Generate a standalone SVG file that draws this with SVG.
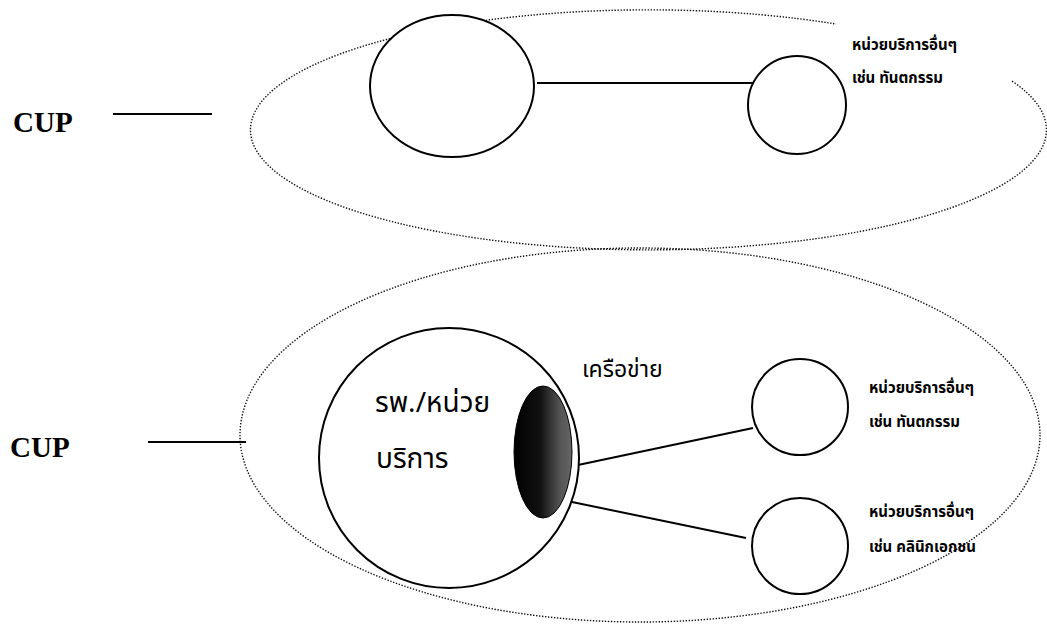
<svg xmlns="http://www.w3.org/2000/svg" width="1047" height="633" viewBox="0 0 1047 633">
<style>
.dot{fill:none;stroke:#111;stroke-width:1.4;stroke-dasharray:1.4 1.6}
.ln{fill:none;stroke:#000;stroke-width:2}
.nd{fill:#fff;stroke:#000;stroke-width:2}
.cup{font-family:"Liberation Serif","Times New Roman",serif;font-weight:bold;font-size:29px;fill:#000}
.th{font-family:"Noto Sans Thai","Noto Sans Thai UI","Noto Sans","DejaVu Sans",sans-serif;fill:#000}
.lbl{font-size:15px;font-weight:bold}
.big{font-size:28px}
.net{font-size:23px}
</style>
<defs>
<linearGradient id="g" x1="0" y1="0" x2="1" y2="0">
<stop offset="0" stop-color="#000"/>
<stop offset="0.45" stop-color="#111"/>
<stop offset="0.8" stop-color="#555"/>
<stop offset="1" stop-color="#666"/>
</linearGradient>
</defs>
<rect width="1047" height="633" fill="#fff"/>
<g id="cup-top">
<text class="cup" x="13" y="132">CUP</text>
</g>
<g id="cup-bottom">
<text class="cup" x="10" y="457">CUP</text>
</g>
<g id="area-top">
<path class="dot" d="M1012 81 A398 120 0 1 1 836 24"/>
</g>
<g id="area-bottom">
<ellipse class="dot" cx="640" cy="435" rx="400" ry="187"/>
</g>
<g id="connectors">
<line class="ln" x1="113" y1="114" x2="212" y2="114"/>
<line class="ln" x1="148" y1="442" x2="246" y2="442"/>
<line class="ln" x1="537" y1="83" x2="762" y2="83"/>
<line class="ln" x1="578" y1="465" x2="753" y2="428"/>
<line class="ln" x1="572" y1="502" x2="746" y2="538"/>
</g>
<g id="top-main">
<ellipse class="nd" cx="452" cy="86" rx="82" ry="71"/>
</g>
<g id="top-other">
<circle class="nd" cx="797" cy="105" r="49" fill="none"/>
<text class="th lbl" x="852" y="50">หน่วยบริการอื่นๆ</text>
<text class="th lbl" x="852" y="83">เช่น ทันตกรรม</text>
</g>
<g id="hospital">
<circle class="nd" cx="449" cy="458" r="130"/>
<ellipse cx="543" cy="452" rx="29" ry="66" fill="url(#g)" stroke="#000" stroke-width="1"/>
<text class="th big" x="375" y="412">รพ./หน่วย</text>
<text class="th big" x="376" y="468">บริการ</text>
</g>
<g id="network-label">
<text class="th net" x="582" y="377">เครือข่าย</text>
</g>
<g id="dental">
<circle class="nd" cx="800" cy="407" r="48"/>
<text class="th lbl" x="869" y="393">หน่วยบริการอื่นๆ</text>
<text class="th lbl" x="869" y="427">เช่น ทันตกรรม</text>
</g>
<g id="clinic">
<circle class="nd" cx="800" cy="546" r="48"/>
<text class="th lbl" x="869" y="517">หน่วยบริการอื่นๆ</text>
<text class="th lbl" x="869" y="552">เช่น คลินิกเอกชน</text>
</g>
</svg>
